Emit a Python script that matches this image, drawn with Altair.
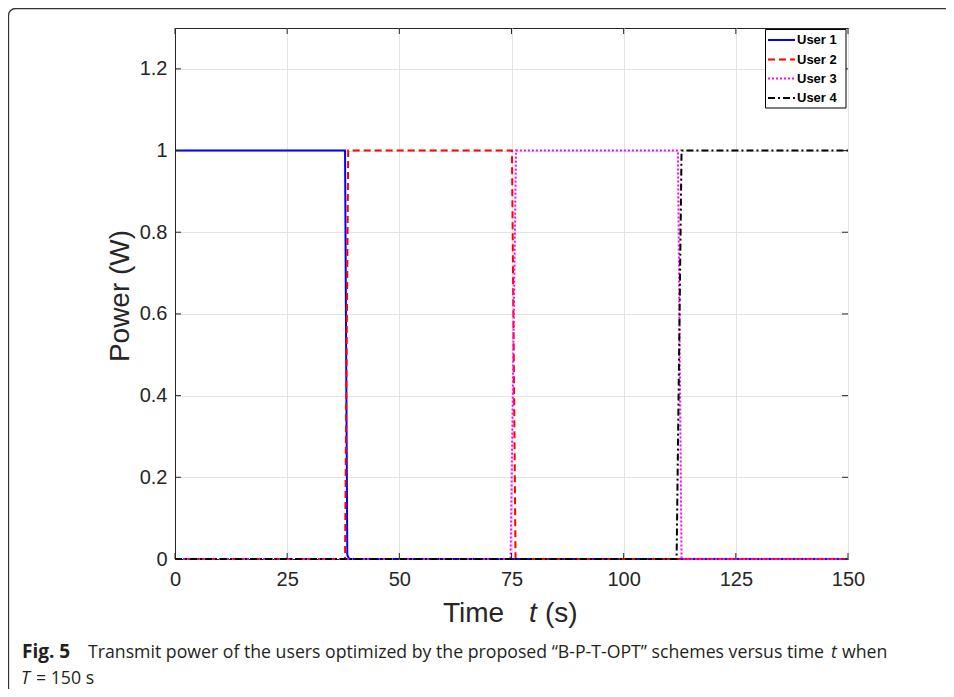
import altair as alt
import pandas as pd

users = ["User 1", "User 2", "User 3", "User 4"]
t_user1 = [0, 37.9, 38.4, 38.8, 150]
p_user1 = [1, 1, 0.01, 0, 0]
t_user2 = [0, 37.9, 38.6, 75.1, 75.9, 150]
p_user2 = [0, 0, 1, 1, 0, 0]
t_user3 = [0, 74.8, 76.0, 112.1, 112.9, 150]
p_user3 = [0, 0, 1, 1, 0, 0]
t_user4 = [0, 111.8, 112.9, 150]
p_user4 = [0, 0, 1, 1]

x_ticks = [0, 25, 50, 75, 100, 125, 150]
y_ticks = [0, 0.2, 0.4, 0.6, 0.8, 1.0, 1.2]

colors = ["#0000ff", "#ff0000", "#ff00ff", "#000000"]
dashes = [[1, 0], [7, 4], [2, 2], [7, 3, 2, 3]]

x_title = ["Time", "t", "(s)"]
y_title = "Power (W)"
cap_bold = "Fig. 5"
cap_main = "Transmit power of the users optimized by the proposed \u201cB-P-T-OPT\u201d schemes versus time"
cap_t = "t"
cap_when = "when"
cap2_T = "T"
cap2_rest = "= 150 s"

W, H = 673, 531
AX = "#262626"
FONT = "Liberation Sans"
CAPFONT = "Open Sans"
CAPCOL = "#231f20"

rows = []
for u, ts, ps in zip(users, [t_user1, t_user2, t_user3, t_user4],
                     [p_user1, p_user2, p_user3, p_user4]):
    for t, p in zip(ts, ps):
        rows.append({"user": u, "t": t, "p": p})
df = pd.DataFrame(rows)

color_scale = alt.Scale(domain=users, range=colors)
dash_scale = alt.Scale(domain=users, range=dashes)
xs = alt.Scale(domain=[0, 150], nice=False)
ys = alt.Scale(domain=[0, 1.3], nice=False)
x_axis = alt.Axis(values=x_ticks, title=None, labelPadding=10, grid=True, labelFlush=False)
y_axis = alt.Axis(values=y_ticks, title=None, format="~g", labelPadding=8, grid=True, labelFlush=False)


def one(**kw):
    return pd.DataFrame({k: [v] for k, v in kw.items()})


def label(txt, x, y, size, weight="normal", style="normal", font=FONT,
          align="left", baseline="alphabetic", angle=0, color=AX):
    return alt.Chart(one(txt=txt)).mark_text(
        align=align, baseline=baseline, fontSize=size, fontWeight=weight,
        fontStyle=style, font=font, angle=angle, color=color
    ).encode(text="txt:N", x=alt.value(x), y=alt.value(y))


frame = alt.Chart(one(a=1)).mark_rect(
    fillOpacity=0, stroke="#333333", strokeWidth=1.3, cornerRadius=7
).encode(x=alt.value(-166.5), x2=alt.value(900), y=alt.value(-19.5), y2=alt.value(720))

lines = alt.Chart(df).mark_line(strokeWidth=2).encode(
    x=alt.X("t:Q", scale=xs, axis=x_axis),
    y=alt.Y("p:Q", scale=ys, axis=y_axis),
    color=alt.Color("user:N", scale=color_scale, legend=None),
    strokeDash=alt.StrokeDash("user:N", scale=dash_scale, legend=None),
    order=alt.Order("t:Q"),
)

xt = pd.DataFrame({"t": x_ticks})
yt = pd.DataFrame({"p": y_ticks})
tick_layers = [
    alt.Chart(xt).mark_rule(color=AX).encode(x=alt.X("t:Q", scale=xs, axis=x_axis), y=alt.value(H), y2=alt.value(H - 6)),
    alt.Chart(xt).mark_rule(color=AX).encode(x=alt.X("t:Q", scale=xs, axis=x_axis), y=alt.value(0), y2=alt.value(6)),
    alt.Chart(yt).mark_rule(color=AX).encode(y=alt.Y("p:Q", scale=ys, axis=y_axis), x=alt.value(0), x2=alt.value(6)),
    alt.Chart(yt).mark_rule(color=AX).encode(y=alt.Y("p:Q", scale=ys, axis=y_axis), x=alt.value(W), x2=alt.value(W - 6)),
]

legend_box = alt.Chart(one(a=1)).mark_rect(fill="white", stroke="black", strokeWidth=1).encode(
    x=alt.value(590.5), x2=alt.value(671), y=alt.value(1.5), y2=alt.value(80))

legend_layers = [legend_box]
row_y = [12, 31.5, 50.5, 70]
for u, yy in zip(users, row_y):
    legend_layers.append(
        alt.Chart(one(user=u)).mark_rule(strokeWidth=2).encode(
            x=alt.value(593), x2=alt.value(620), y=alt.value(yy),
            color=alt.Color("user:N", scale=color_scale, legend=None),
            strokeDash=alt.StrokeDash("user:N", scale=dash_scale, legend=None),
        )
    )
    legend_layers.append(label(u, 622, yy, 13, weight="bold", baseline="middle", color="black"))

texts = [
    label(x_title[0], 268, 594, 28),
    label(x_title[1], 354, 594, 28, style="italic"),
    label(x_title[2], 370, 594, 28),
    label(y_title, -54, 268, 28, align="center", baseline="middle", angle=270),
    label(cap_bold, -153, 630, 19, weight="bold", font=CAPFONT, color=CAPCOL),
    label(cap_main, -87, 630, 17.7, font=CAPFONT, color=CAPCOL),
    label(cap_t, 656, 630, 17.7, style="italic", font=CAPFONT, color=CAPCOL),
    label(cap_when, 667, 630, 17.7, font=CAPFONT, color=CAPCOL),
    label(cap2_T, -154, 656, 17.7, style="italic", font=CAPFONT, color=CAPCOL),
    label(cap2_rest, -139, 656, 17.7, font=CAPFONT, color=CAPCOL),
]

chart = alt.layer(frame, lines, *tick_layers, *legend_layers, *texts).properties(
    width=W, height=H,
    padding={"left": 167, "top": 20, "right": 98, "bottom": 130},
    autosize=alt.AutoSizeParams(type="none"),
).configure_axis(
    gridColor="#e3e3e3", domainColor=AX, labelColor=AX,
    labelFont=FONT, labelFontSize=20, ticks=False,
).configure_view(stroke=AX)

chart.save("out.html", embed_options={"renderer": "svg", "actions": False})
